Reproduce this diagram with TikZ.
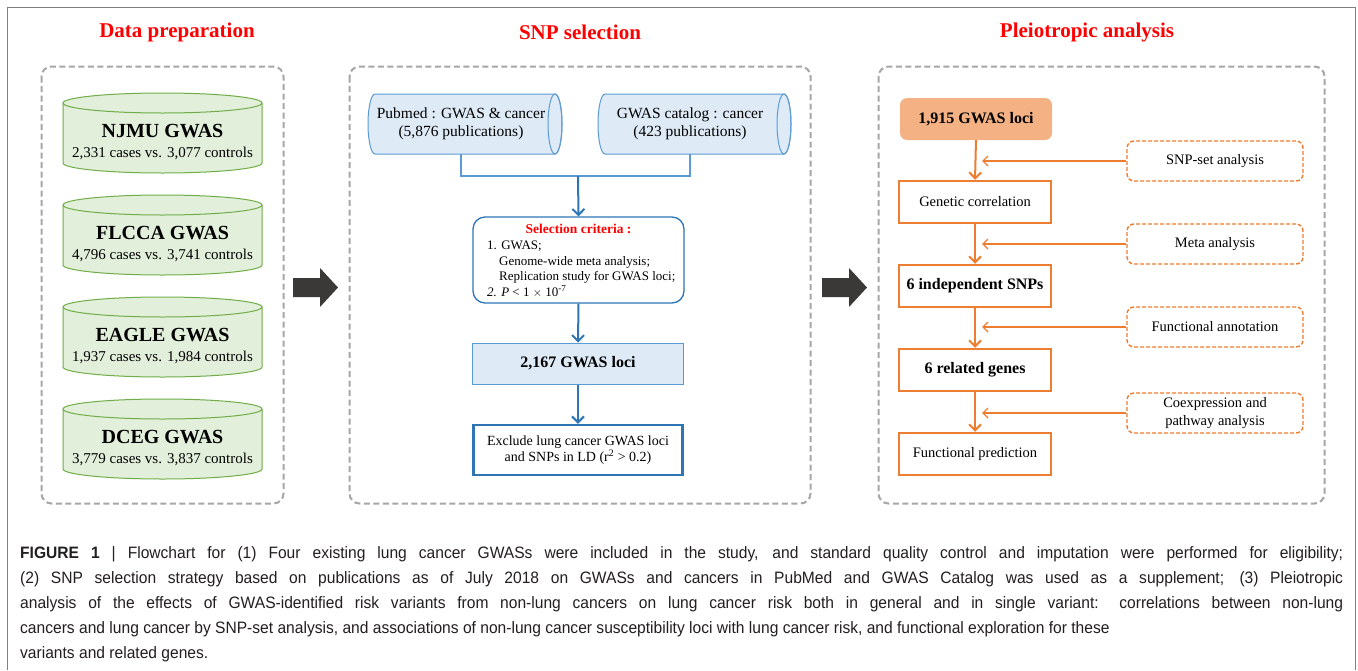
\documentclass[tikz,border=0pt]{standalone}
\usepackage{fontspec}
\setmainfont{Liberation Serif}
\newfontfamily\capfont[FakeStretch=0.945]{Liberation Sans}
\usetikzlibrary{arrows.meta,positioning}
\definecolor{panelgray}{HTML}{A6A6A6}
\definecolor{cylgreen}{HTML}{70AD47}
\definecolor{cylfill}{HTML}{E2EFDA}
\definecolor{tubeblue}{HTML}{5B9BD5}
\definecolor{darkblue}{HTML}{2E75B6}
\definecolor{lightblue}{HTML}{DEEBF7}
\definecolor{orng}{HTML}{ED7D31}
\definecolor{peach}{HTML}{F4B183}
\definecolor{bigarrow}{HTML}{3B3838}
\definecolor{captext}{HTML}{231F20}
\definecolor{framegray}{HTML}{808080}
\begin{document}
\begin{tikzpicture}[x=1pt,y=1pt,
  heading/.style={text=red,font=\fontsize{21}{24}\selectfont\bfseries,anchor=center},
  panel/.style={draw=panelgray,line width=2pt,dash pattern=on 6pt off 3.5pt,rounded corners=10pt},
  cyltxt/.style={align=center,inner sep=0pt,font=\fontsize{15}{20}\selectfont},
  tubetxt/.style={align=center,inner sep=0pt,font=\fontsize{15.5}{18}\selectfont},
  bluearrow/.style={draw=darkblue,line width=2pt,-{Straight Barb[length=6pt,width=12pt,line width=2pt]}},
  crit/.style={draw=darkblue,line width=1.3pt,rounded corners=12pt,fill=white,minimum width=211pt,minimum height=86pt},
  lociblue/.style={draw=tubeblue,line width=1pt,fill=lightblue,minimum width=211pt,minimum height=41pt,font=\fontsize{16}{19}\selectfont\bfseries},
  excl/.style={draw=darkblue,line width=2.5pt,fill=white,minimum width=209pt,minimum height=50pt,align=center,font=\fontsize{14}{16}\selectfont},
  obox/.style={draw=orng,line width=2.5pt,fill=white,minimum width=152pt,minimum height=42pt,align=center,font=\fontsize{14.5}{17}\selectfont},
  dbox/.style={draw=orng,line width=1.4pt,dash pattern=on 4pt off 2pt,rounded corners=7pt,minimum width=176pt,minimum height=40pt,align=center,font=\fontsize{14.5}{17}\selectfont},
  oarrow/.style={draw=orng,line width=2pt,-{Straight Barb[length=6pt,width=12pt,line width=2pt]}},
  sarrow/.style={draw=orng,line width=1.4pt,-{Straight Barb[length=5pt,width=10pt,line width=1.4pt]}}
]
\useasboundingbox (0,0) rectangle (1358,-670);
\fill[white] (0,0) rectangle (1358,-670);
% outer frame
\draw[framegray,line width=1pt] (7,-670) -- (7,-7.5) -- (1355.5,-7.5) -- (1355.5,-670);

% headings
\node[heading] (h1) at (177,-32) {Data preparation};
\node[heading] (h2) at (580,-32) {SNP selection};
\node[heading] (h3) at (1087,-32) {Pleiotropic analysis};

% panels
\draw[panel] (41.5,-66.5) rectangle (283.5,-503.5);
\draw[panel] (349.5,-66.5) rectangle (810.5,-503.5);
\draw[panel] (878.5,-66.5) rectangle (1324.5,-503.5);

% big arrows
\fill[bigarrow] (293,-278) -- (320,-278) -- (320,-268) -- (338,-287.5) -- (320,-307) -- (320,-297) -- (293,-297) -- cycle;
\fill[bigarrow] (822,-278) -- (849,-278) -- (849,-268) -- (867,-287.5) -- (849,-307) -- (849,-297) -- (822,-297) -- cycle;

% cylinders
\foreach \t in {93,195,297,399}{
  \filldraw[fill=cylfill,draw=cylgreen,line width=1pt]
    (63,-\t-10) -- (63,-\t-70) arc[start angle=180,end angle=360,x radius=99.5,y radius=10]
    -- (262,-\t-10) arc[start angle=0,end angle=180,x radius=99.5,y radius=10] -- cycle;
  \draw[cylgreen,line width=1pt] (63,-\t-10) arc[start angle=180,end angle=360,x radius=99.5,y radius=10];
}
\node[cyltxt] (njmu) at (162.5,-142) {{\fontsize{20}{22}\selectfont\bfseries NJMU GWAS}\\2,331 cases vs. 3,077 controls};
\node[cyltxt] (flcca) at (162.5,-244) {{\fontsize{20}{22}\selectfont\bfseries FLCCA GWAS}\\4,796 cases vs. 3,741 controls};
\node[cyltxt] (eagle) at (162.5,-346) {{\fontsize{20}{22}\selectfont\bfseries EAGLE GWAS}\\1,937 cases vs. 1,984 controls};
\node[cyltxt] (dceg) at (162.5,-448) {{\fontsize{20}{22}\selectfont\bfseries DCEG GWAS}\\3,779 cases vs. 3,837 controls};

% tubes
\filldraw[fill=lightblue,draw=tubeblue,line width=1pt]
  (375,-94) -- (555,-94) arc[start angle=90,end angle=-90,x radius=7,y radius=30]
  -- (375,-154) arc[start angle=270,end angle=90,x radius=7,y radius=30] -- cycle;
\draw[tubeblue,line width=1pt] (555,-124) ellipse[x radius=7,y radius=30];
\filldraw[fill=lightblue,draw=tubeblue,line width=1pt]
  (605,-94) -- (784,-94) arc[start angle=90,end angle=-90,x radius=7,y radius=30]
  -- (605,-154) arc[start angle=270,end angle=90,x radius=7,y radius=30] -- cycle;
\draw[tubeblue,line width=1pt] (784,-124) ellipse[x radius=7,y radius=30];
\node[tubetxt,minimum width=180pt,minimum height=60pt] (pub) at (461,-124) {Pubmed : GWAS \& cancer\\(5,876 publications)};
\node[tubetxt,minimum width=180pt,minimum height=60pt] (cat) at (690,-124) {GWAS catalog : cancer\\(423 publications)};
\coordinate (join) at (578,-176);
\draw[tubeblue,line width=2pt] (pub.south) |- (join) -| (cat.south);

% selection criteria
\node[crit] (sel) at (578.5,-260) {};
\node[text=red,font=\fontsize{13.5}{16}\selectfont\bfseries] (selt) at (578.5,-229) {Selection criteria :};
\node[anchor=north west,align=left,inner sep=0pt,font=\fontsize{13}{15.5}\selectfont] (selb) at (487,-241)
  {1. GWAS;\\\hspace*{12pt}Genome-wide meta analysis;\\\hspace*{12pt}Replication study for GWAS loci;\\\textit{2. P} \textless{} 1 $\times$ 10\textsuperscript{-7}};
\draw[bluearrow] (join) -- (sel.north);

\node[lociblue] (loci) at (578,-363.5) {2,167 GWAS loci};
\draw[bluearrow] (sel.south) -- (loci.north);
\node[excl] (exc) at (578,-450) {Exclude lung cancer GWAS loci\\and SNPs in LD (r\textsuperscript{2} \textgreater{} 0.2)};
\draw[bluearrow] (loci.south) -- (exc.north);

% pleiotropic panel
\node[fill=peach,rounded corners=7pt,minimum width=152pt,minimum height=42pt,font=\fontsize{16}{19}\selectfont\bfseries] (gw) at (976,-119) {1,915 GWAS loci};
\node[obox] (gc) at (975,-202) {Genetic correlation};
\node[obox,font=\fontsize{16}{19}\selectfont\bfseries] (ind) at (975,-286) {6 independent SNPs};
\node[obox,font=\fontsize{16}{19}\selectfont\bfseries] (rel) at (975,-370) {6 related genes};
\node[obox] (fp) at (975,-454) {Functional prediction};
\draw[oarrow] (gw.south) -- (gc.north);
\draw[oarrow] (gc.south) -- (ind.north);
\draw[oarrow] (ind.south) -- (rel.north);
\draw[oarrow] (rel.south) -- (fp.north);

\node[dbox] (d1) at (1215,-161) {SNP-set analysis};
\node[dbox] (d2) at (1215,-244) {Meta analysis};
\node[dbox] (d3) at (1215,-327) {Functional annotation};
\node[dbox,font=\fontsize{14.5}{18}\selectfont] (d4) at (1215,-413) {Coexpression and\\pathway analysis};
\coordinate (t1) at (982,-161);
\coordinate (t2) at (982,-244);
\coordinate (t3) at (982,-328);
\coordinate (t4) at (982,-412);
\draw[sarrow] (d1.west) -- (t1);
\draw[sarrow] (d2.west) -- (t2);
\draw[sarrow] (d3.west) -- (t3 |- d3.west);
\draw[sarrow] (d4.west) -- (t4 |- d4.west);

% caption
\node[anchor=north west,inner sep=0pt,text width=1323pt,align=justify,text=captext,
  font=\capfont\fontsize{16.5}{25}\selectfont] (cap) at (20,-546)
{\textbf{FIGURE 1} | Flowchart for (1) Four existing lung cancer GWASs were included in the study, and standard quality control and imputation were performed for eligibility;\linebreak
(2) SNP selection strategy based on publications as of July 2018 on GWASs and cancers in PubMed and GWAS Catalog was used as a supplement; (3) Pleiotropic\linebreak
analysis of the effects of GWAS-identified risk variants from non-lung cancers on lung cancer risk both in general and in single variant: correlations between non-lung\linebreak
cancers and lung cancer by SNP-set analysis, and associations of non-lung cancer susceptibility loci with lung cancer risk, and functional exploration for these\\
variants and related genes.};
\end{tikzpicture}
\end{document}
